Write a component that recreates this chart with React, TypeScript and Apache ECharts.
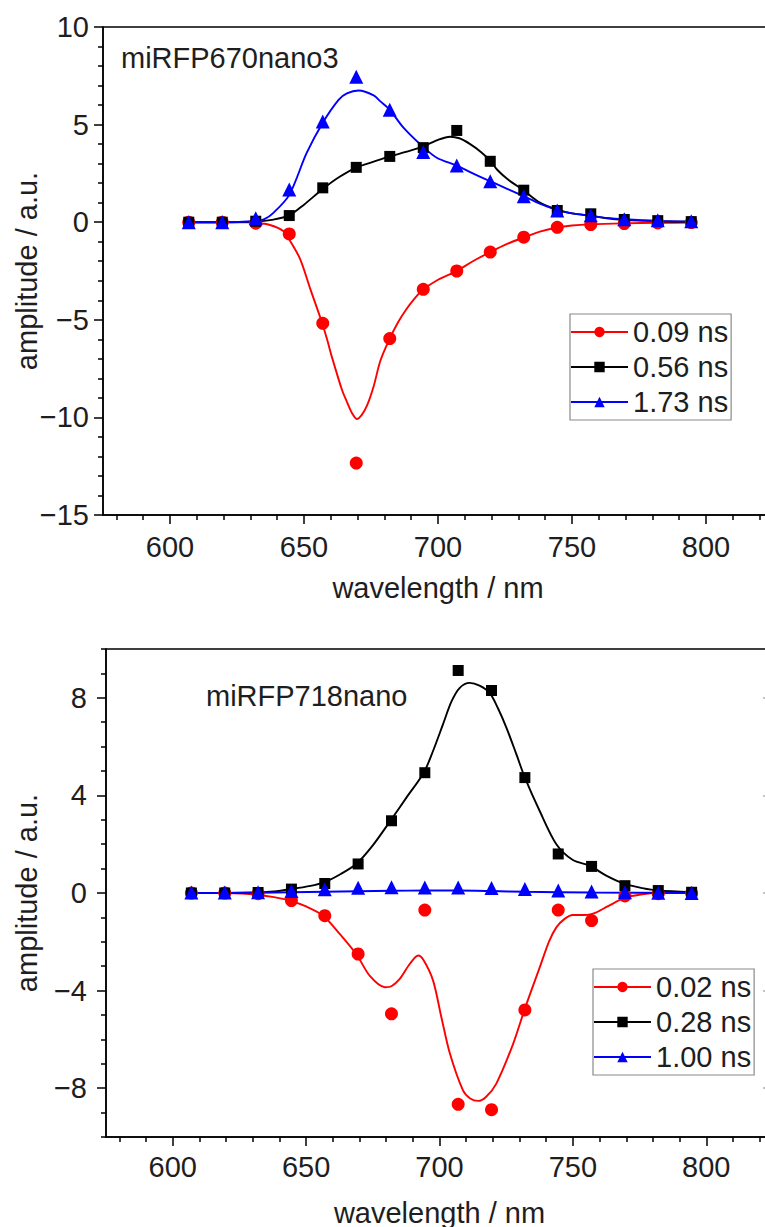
import React, { useEffect, useRef } from 'react';
import * as echarts from 'echarts';

// shared wavelength grid of measured points (nm)
const wavelengths = [607, 619.5, 632, 644.5, 657, 669.5, 682, 694.5, 707, 719.5, 732, 744.5, 757, 769.5, 782, 794.5];

// ---- top panel: miRFP670nano3 ----
const topTitle = 'miRFP670nano3';
const topNames = ['0.09 ns', '0.56 ns', '1.73 ns'];
const top009 = [0, 0, -0.05, -0.6, -5.18, -12.34, -5.96, -3.44, -2.5, -1.53, -0.77, -0.26, -0.12, -0.07, -0.04, -0.02];
const top056 = [0, 0, 0.05, 0.34, 1.76, 2.81, 3.37, 3.82, 4.7, 3.12, 1.64, 0.6, 0.43, 0.14, 0.08, 0.03];
const top173 = [0, 0, 0.2, 1.67, 5.16, 7.45, 5.76, 3.6, 2.9, 2.1, 1.33, 0.6, 0.35, 0.15, 0.1, 0.05];

const fitTop009X = [607, 619.5, 628, 632, 637, 642.4, 645, 648.6, 652.4, 656.7, 658.6, 660.4, 664.2, 666, 668, 669.7, 671.5, 673.5, 676, 678.5, 682, 685, 688, 691, 694.5, 700, 707, 713, 719.5, 726, 732, 738, 744.5, 750, 757, 769.5, 782, 794.5];
const fitTop009Y = [0, 0, -0.01, -0.03, -0.13, -0.46, -1.0, -1.9, -3.44, -5.14, -6.0, -6.9, -8.6, -9.2, -9.8, -10.08, -9.88, -9.4, -8.4, -7.1, -5.96, -5.15, -4.5, -3.95, -3.45, -2.95, -2.5, -2.0, -1.53, -1.1, -0.78, -0.48, -0.27, -0.17, -0.11, -0.06, -0.03, -0.02];

const fitTop056X = [607, 619.5, 632, 638, 644.5, 650, 657, 663, 669.5, 676, 682, 688, 694.5, 700, 704.5, 708, 712, 716, 719.5, 722, 726, 732, 738, 744.5, 750, 757, 763, 769.5, 782, 794.5];
const fitTop056Y = [0, 0, 0.03, 0.12, 0.35, 0.9, 1.7, 2.3, 2.8, 3.1, 3.37, 3.6, 3.88, 4.22, 4.38, 4.3, 4.0, 3.6, 3.15, 2.7, 2.2, 1.62, 1.0, 0.64, 0.45, 0.33, 0.2, 0.12, 0.05, 0.02];

const fitTop173X = [607, 619.5, 632, 635, 638.6, 644.5, 651, 657, 662.9, 666, 670.4, 676, 678.5, 682, 687.2, 694.5, 699.7, 707, 713, 719.5, 726, 732, 738, 744.5, 750, 757, 763, 769.5, 782, 794.5];
const fitTop173Y = [0, 0, 0.06, 0.14, 0.48, 1.4, 3.55, 5.1, 6.27, 6.6, 6.75, 6.5, 6.19, 5.76, 4.83, 3.85, 3.29, 2.9, 2.5, 2.1, 1.7, 1.33, 0.95, 0.62, 0.45, 0.33, 0.22, 0.15, 0.07, 0.04];

// ---- bottom panel: miRFP718nano ----
const botTitle = 'miRFP718nano';
const botNames = ['0.02 ns', '0.28 ns', '1.00 ns'];
const bot002 = [0, 0, -0.03, -0.31, -0.93, -2.5, -4.95, -0.7, -8.66, -8.88, -4.79, -0.7, -1.13, -0.12, -0.03, -0.01];
const bot028 = [0, 0, 0.02, 0.16, 0.39, 1.19, 2.96, 4.93, 9.12, 8.3, 4.73, 1.6, 1.09, 0.3, 0.1, 0.03];
const bot100 = [0.02, 0.02, 0.03, 0.08, 0.15, 0.22, 0.24, 0.23, 0.23, 0.21, 0.16, 0.1, 0.06, 0.03, 0.01, 0];

const fitBot002X = [607, 619.5, 626, 631.5, 638, 643.9, 650, 656.4, 662, 668.9, 673.9, 679.5, 682, 685.1, 688.9, 692, 694, 697.6, 700.7, 703.9, 708.8, 711.5, 714.5, 717.5, 721.3, 727.6, 732, 737.6, 741, 743.8, 747, 750, 754.6, 758.8, 763, 769.4, 776, 782, 794.5];
const fitBot002Y = [0, 0, -0.02, -0.07, -0.17, -0.31, -0.55, -0.93, -1.6, -2.52, -3.4, -3.86, -3.82, -3.52, -2.9, -2.56, -2.75, -3.59, -5.09, -6.58, -8.09, -8.42, -8.52, -8.35, -7.81, -6.18, -4.74, -3.04, -2.0, -1.41, -1.05, -0.9, -0.9, -0.79, -0.55, -0.2, -0.05, 0, 0];

const fitBot028X = [607, 619.5, 632, 638, 644.5, 651, 657, 663, 669, 675, 681.6, 687.6, 694.1, 697.5, 701.3, 704.5, 707.6, 711.3, 715, 718.8, 722, 725.1, 728.8, 732, 737.6, 743.8, 750, 756.3, 762.5, 769.4, 776, 782, 794.5];
const fitBot028Y = [0, 0, 0.02, 0.06, 0.16, 0.28, 0.45, 0.78, 1.21, 1.95, 2.96, 3.91, 4.93, 5.8, 6.91, 7.85, 8.41, 8.61, 8.5, 8.2, 7.55, 6.77, 5.69, 4.73, 3.35, 2.0, 1.35, 1.12, 0.71, 0.37, 0.2, 0.1, 0.03];

const fitBot100X = [607, 632, 657, 682, 694.5, 707, 719.5, 732, 757, 794.5];
const fitBot100Y = [0, 0.01, 0.05, 0.09, 0.1, 0.1, 0.08, 0.05, 0.02, 0];

// ---- axes ticks ----
const xMajorTicks = [600, 650, 700, 750, 800];
const xMinorTicks = [580, 590, 610, 620, 630, 640, 660, 670, 680, 690, 710, 720, 730, 740, 760, 770, 780, 790, 810, 820];
const topYMajor = [-15, -10, -5, 0, 5, 10];
const topYMinor = [-14, -13, -12, -11, -9, -8, -7, -6, -4, -3, -2, -1, 1, 2, 3, 4, 6, 7, 8, 9];
const botYMajor = [-8, -4, 0, 4, 8];
const botYMinor = [-10, -9, -7, -6, -5, -3, -2, -1, 1, 2, 3, 5, 6, 7, 9, 10];

const colors = ['#ff0000', '#000000', '#0000ff'];
const symbols = ['circle', 'rect', 'triangle'];
const symbolSizes = [13, 11, 14];
const FONT = 'Arial, "Liberation Sans", sans-serif';
const FS = 29;
const TEXT = '#1e1e1e';

const pairs = (xs: number[], ys: number[]) => xs.map((x, i) => [x, ys[i]]);
const fmt = (v: number) => (v < 0 ? '\u2212' + Math.abs(v) : String(v));

function xAxesFor(grid: number, labelMargin: number, nameGap: number) {
  return [
    {
      type: 'value', gridIndex: grid, position: 'bottom', min: 575, max: 825,
      axisLine: { show: true, onZero: false, lineStyle: { color: '#000', width: 1.5 } },
      axisTick: { show: true, length: 9, customValues: xMajorTicks, lineStyle: { color: '#000', width: 1.5 } },
      axisLabel: { show: true, customValues: xMajorTicks, margin: labelMargin, fontSize: FS, fontFamily: FONT, color: TEXT },
      splitLine: { show: false },
      name: 'wavelength / nm', nameLocation: 'middle', nameGap, nameMoveOverlap: false,
      nameTextStyle: { fontSize: FS, fontFamily: FONT, color: TEXT },
    },
    {
      type: 'value', gridIndex: grid, position: 'bottom', min: 575, max: 825,
      axisLine: { show: false, onZero: false },
      axisTick: { show: true, length: 5, customValues: xMinorTicks, lineStyle: { color: '#000', width: 1.5 } },
      axisLabel: { show: false },
      splitLine: { show: false },
    },
  ];
}

function yAxesFor(grid: number, min: number, max: number, major: number[], minor: number[], labelMargin: number, nameGap: number) {
  return [
    {
      type: 'value', gridIndex: grid, position: 'left', min, max,
      axisLine: { show: true, onZero: false, lineStyle: { color: '#000', width: 1.5 } },
      axisTick: { show: true, length: 9, customValues: major, lineStyle: { color: '#000', width: 1.5 } },
      axisLabel: { show: true, customValues: major, margin: labelMargin, fontSize: FS, fontFamily: FONT, color: TEXT, formatter: fmt },
      splitLine: { show: false },
      name: 'amplitude / a.u.', nameLocation: 'middle', nameGap, nameRotate: 90, nameMoveOverlap: false,
      nameTextStyle: { fontSize: FS, fontFamily: FONT, color: TEXT },
    },
    {
      type: 'value', gridIndex: grid, position: 'left', min, max,
      axisLine: { show: false, onZero: false },
      axisTick: { show: true, length: 5, customValues: minor, lineStyle: { color: '#000', width: 1.5 } },
      axisLabel: { show: false },
      splitLine: { show: false },
    },
  ];
}

function seriesFor(
  xIdx: number, yIdx: number, names: string[],
  pts: number[][], fitsX: number[][], fitsY: number[][]
) {
  const out: any[] = [];
  names.forEach((name, i) => {
    out.push({
      type: 'line', name, xAxisIndex: xIdx, yAxisIndex: yIdx,
      data: pairs(fitsX[i], fitsY[i]), smooth: 0.3, showSymbol: false,
      symbol: symbols[i], symbolSize: symbolSizes[i],
      lineStyle: { color: colors[i], width: 1.9 }, itemStyle: { color: colors[i] },
      z: 2, silent: true,
    });
    out.push({
      type: 'scatter', name: name + ' data', xAxisIndex: xIdx, yAxisIndex: yIdx,
      data: pairs(wavelengths, pts[i]), symbol: symbols[i], symbolSize: symbolSizes[i],
      itemStyle: { color: colors[i], opacity: 1 }, z: 3, silent: true,
    });
  });
  return out;
}

function legendFor(names: string[], left: number, top: number) {
  return {
    show: true, data: names, orient: 'vertical', left, top,
    borderColor: '#8a8a8a', borderWidth: 1.2, padding: [3, 3, 3, 0],
    itemWidth: 57, itemHeight: 13, itemGap: 5, selectedMode: false,
    textStyle: { fontSize: FS, fontFamily: FONT, color: TEXT, lineHeight: 30 },
  };
}

export default function App() {
  const ref = useRef<HTMLDivElement>(null);
  useEffect(() => {
    if (!ref.current) return;
    const chart = echarts.init(ref.current, null, { renderer: 'svg' });
    const xTop = xAxesFor(0, 17, 58);
    const xBot = xAxesFor(1, 15, 61);
    const yTop = yAxesFor(0, -15, 10, topYMajor, topYMinor, 14, 62);
    const yBot = yAxesFor(1, -10, 10, botYMajor, botYMinor, 19, 65);
    const yBotRight = {
      type: 'value', gridIndex: 1, position: 'right', min: -10, max: 10,
      axisLine: { show: false, onZero: false },
      axisTick: { show: true, inside: true, length: 10, customValues: botYMajor, lineStyle: { color: '#b0b0b0', width: 1.5 } },
      axisLabel: { show: false }, splitLine: { show: false },
    };
    chart.setOption({
      animation: false,
      backgroundColor: '#ffffff',
      grid: [
        { left: 103, top: 27, width: 670, height: 488, show: true, borderColor: '#000', borderWidth: 1.5, containLabel: false, outerBoundsMode: 'none' },
        { left: 106, top: 649, width: 667, height: 488, show: true, borderColor: '#000', borderWidth: 1.5, containLabel: false, outerBoundsMode: 'none' },
      ],
      xAxis: [...xTop, ...xBot],
      yAxis: [...yTop, ...yBot, yBotRight],
      legend: [legendFor(topNames, 570, 314), legendFor(botNames, 593, 969)],
      graphic: [
        { type: 'text', left: 121, top: 43, style: { text: topTitle, font: `${FS}px ${FONT}`, fill: TEXT } },
        { type: 'text', left: 206, top: 681, style: { text: botTitle, font: `${FS}px ${FONT}`, fill: TEXT } },
      ],
      series: [
        ...seriesFor(0, 0, topNames, [top009, top056, top173], [fitTop009X, fitTop056X, fitTop173X], [fitTop009Y, fitTop056Y, fitTop173Y]),
        ...seriesFor(2, 2, botNames, [bot002, bot028, bot100], [fitBot002X, fitBot028X, fitBot100X], [fitBot002Y, fitBot028Y, fitBot100Y]),
      ],
    });
    return () => chart.dispose();
  }, []);
  return <div ref={ref} style={{ position: 'absolute', left: 0, top: 0, width: 765, height: 1227, background: '#fff' }} />;
}
